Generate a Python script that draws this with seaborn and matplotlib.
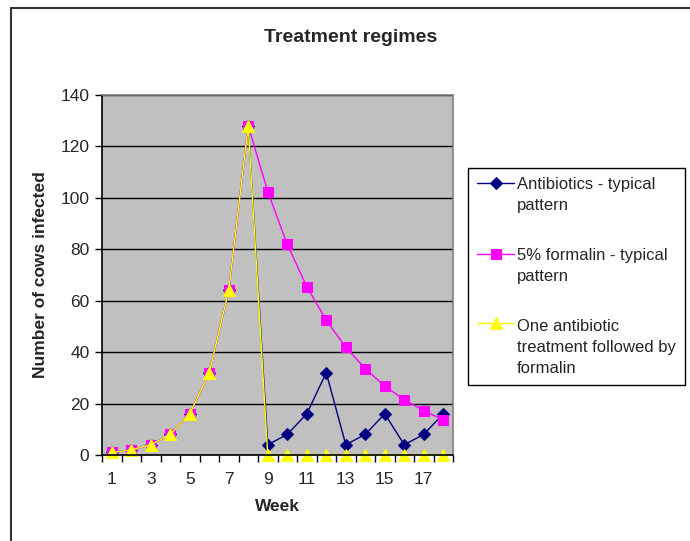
import numpy as np
import pandas as pd
import matplotlib
matplotlib.use("Agg")
import matplotlib.pyplot as plt
import seaborn as sns
from matplotlib.legend_handler import HandlerLine2D
from matplotlib.lines import Line2D

weeks = list(range(1, 19))
antibiotics = [1, 2, 4, 8, 16, 32, 64, 128, 4, 8, 16, 32, 4, 8, 16, 4, 8, 16]
formalin = [1, 2, 4, 8, 16, 32, 64, 128, 102.4, 81.9, 65.5, 52.4, 41.9, 33.6, 26.8, 21.5, 17.2, 13.7]
one_antibiotic = [1, 2, 4, 8, 16, 32, 64, 128, 0, 0, 0, 0, 0, 0, 0, 0, 0, 0]
labels = ["Antibiotics - typical\npattern",
          "5% formalin - typical\npattern",
          "One antibiotic\ntreatment followed by\nformalin"]

LEG_LS = 1.5


class TopHandler(HandlerLine2D):
    # put the legend symbol next to the first line of a wrapped label
    def __init__(self, nlines, **kw):
        super().__init__(**kw)
        self.nlines = nlines

    def adjust_drawing_area(self, legend, orig_handle, xdescent, ydescent, width, height, fontsize):
        x, y, w, h = super().adjust_drawing_area(legend, orig_handle, xdescent, ydescent, width, height, fontsize)
        return x, y, w, h + (self.nlines - 1) * LEG_LS * fontsize


def main():
    sns.set_theme(style="white")
    plt.rcParams['font.family'] = ['Liberation Sans', 'DejaVu Sans']

    fig = plt.figure(figsize=(6.9, 5.41), dpi=100)
    ax = fig.add_axes([102 / 690, 86 / 541, 351 / 690, 360 / 541])
    ax.set_facecolor("#C0C0C0")

    sns.lineplot(x=weeks, y=antibiotics, ax=ax, color="#000080", marker="D", markersize=6,
                 markeredgecolor="#000080", linewidth=1, label=labels[0], clip_on=False)
    sns.lineplot(x=weeks, y=formalin, ax=ax, color="#FF00FF", marker="s", markersize=7,
                 markeredgecolor="#FF00FF", linewidth=1, label=labels[1], clip_on=False)
    sns.lineplot(x=weeks, y=one_antibiotic, ax=ax, color="#FFFF00", marker="^", markersize=8,
                 markeredgecolor="#FFFF00", linewidth=1, label=labels[2], clip_on=False)

    ax.set_xlim(0.5, 18.5)
    ax.set_ylim(0, 140)
    ax.set_yticks(np.arange(0, 141, 20))
    ax.yaxis.grid(True, color="black", linewidth=1)
    ax.set_axisbelow(True)
    ax.set_xticks(np.arange(0.5, 18.6, 1))
    ax.set_xticklabels([])
    ax.set_xticks(weeks[::2], minor=True)
    ax.set_xticklabels([str(w) for w in weeks[::2]], minor=True)
    ax.tick_params(axis="x", which="major", direction="out", length=5, color="black", width=1, bottom=True)
    ax.tick_params(axis="x", which="minor", length=0, labelsize=12.5, pad=12)
    ax.tick_params(axis="y", direction="out", length=5, color="black", width=1, left=True, labelsize=12.5, pad=4)
    for s in ["left", "bottom"]:
        ax.spines[s].set_color("black")
        ax.spines[s].set_linewidth(1.2)
    for s in ["top", "right"]:
        ax.spines[s].set_color("#808080")
        ax.spines[s].set_linewidth(1.2)

    ax.set_xlabel("Week", fontsize=12.5, fontweight="bold", labelpad=9)
    ax.set_ylabel("Number of cows infected", fontsize=12.5, fontweight="bold", labelpad=9)
    fig.text(351 / 690, 1 - 38 / 541, "Treatment regimes", ha="center", va="center",
             fontsize=14, fontweight="bold")

    handles, labs = ax.get_legend_handles_labels()
    ax.get_legend().remove()
    hmap = {h: TopHandler(l.count("\n") + 1) for h, l in zip(handles, labs)}
    leg = fig.legend(handles, labs, handler_map=hmap, loc="upper left",
                     bbox_to_anchor=(468 / 690, 1 - 168 / 541), fontsize=12,
                     frameon=True, fancybox=False, edgecolor="black", framealpha=1,
                     handlelength=2.2, handletextpad=0.2, labelspacing=2.1,
                     borderpad=0.55, borderaxespad=0)
    leg.get_frame().set_linewidth(1)
    for t in leg.get_texts():
        t.set_linespacing(LEG_LS)

    # chart border
    fig.add_artist(Line2D([11 / 690, 11 / 690], [0, 1 - 8 / 541], transform=fig.transFigure,
                          color="#333333", linewidth=1.5))
    fig.add_artist(Line2D([11 / 690, 1], [1 - 8 / 541, 1 - 8 / 541], transform=fig.transFigure,
                          color="#333333", linewidth=1.5))

    fig.savefig("out.png", dpi=100, facecolor="white")


if __name__ == "__main__":
    main()
